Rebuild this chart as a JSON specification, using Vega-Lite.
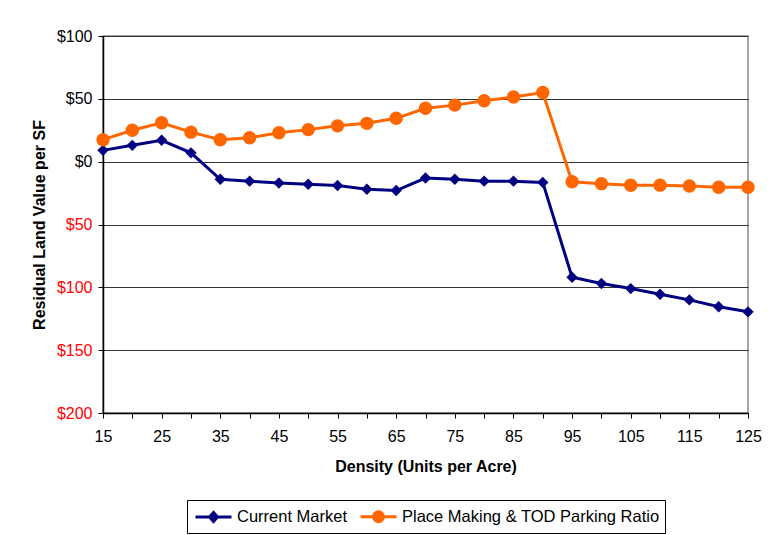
{
  "$schema": "https://vega.github.io/schema/vega-lite/v6.json",
  "width": 645,
  "height": 377,
  "autosize": {"type": "none"},
  "padding": {"left": 103, "top": 36, "right": 24, "bottom": 122},
  "background": "white",
  "config": {
    "font": "Liberation Sans",
    "view": {"stroke": "#888888", "strokeWidth": 1.5},
    "legend": {
      "title": null,
      "orient": "none",
      "legendX": 84,
      "legendY": 464,
      "direction": "horizontal",
      "strokeColor": "black",
      "padding": 5,
      "labelFontSize": 16.5,
      "labelColor": "black",
      "labelLimit": 400,
      "symbolSize": 400,
      "symbolOpacity": 1,
      "symbolStrokeWidth": 3,
      "symbolOffset": 10,
      "columnPadding": 6,
      "labelOffset": 12
    }
  },
  "data": {
    "values": [
      {"density": 15, "series": "Current Market", "value": 9},
      {"density": 20, "series": "Current Market", "value": 13},
      {"density": 25, "series": "Current Market", "value": 17},
      {"density": 30, "series": "Current Market", "value": 7},
      {"density": 35, "series": "Current Market", "value": -14},
      {"density": 40, "series": "Current Market", "value": -15.5},
      {"density": 45, "series": "Current Market", "value": -17},
      {"density": 50, "series": "Current Market", "value": -18},
      {"density": 55, "series": "Current Market", "value": -19},
      {"density": 60, "series": "Current Market", "value": -22},
      {"density": 65, "series": "Current Market", "value": -23},
      {"density": 70, "series": "Current Market", "value": -13},
      {"density": 75, "series": "Current Market", "value": -14},
      {"density": 80, "series": "Current Market", "value": -15.5},
      {"density": 85, "series": "Current Market", "value": -15.5},
      {"density": 90, "series": "Current Market", "value": -16.5},
      {"density": 95, "series": "Current Market", "value": -92},
      {"density": 100, "series": "Current Market", "value": -97},
      {"density": 105, "series": "Current Market", "value": -101},
      {"density": 110, "series": "Current Market", "value": -105.5},
      {"density": 115, "series": "Current Market", "value": -110},
      {"density": 120, "series": "Current Market", "value": -115.5},
      {"density": 125, "series": "Current Market", "value": -119.5},
      {"density": 15, "series": "Place Making & TOD Parking Ratio", "value": 17.5},
      {"density": 20, "series": "Place Making & TOD Parking Ratio", "value": 25},
      {"density": 25, "series": "Place Making & TOD Parking Ratio", "value": 31},
      {"density": 30, "series": "Place Making & TOD Parking Ratio", "value": 23.5},
      {"density": 35, "series": "Place Making & TOD Parking Ratio", "value": 17.5},
      {"density": 40, "series": "Place Making & TOD Parking Ratio", "value": 19},
      {"density": 45, "series": "Place Making & TOD Parking Ratio", "value": 23},
      {"density": 50, "series": "Place Making & TOD Parking Ratio", "value": 25.5},
      {"density": 55, "series": "Place Making & TOD Parking Ratio", "value": 28.5},
      {"density": 60, "series": "Place Making & TOD Parking Ratio", "value": 30.5},
      {"density": 65, "series": "Place Making & TOD Parking Ratio", "value": 34.5},
      {"density": 70, "series": "Place Making & TOD Parking Ratio", "value": 42.5},
      {"density": 75, "series": "Place Making & TOD Parking Ratio", "value": 45},
      {"density": 80, "series": "Place Making & TOD Parking Ratio", "value": 48.5},
      {"density": 85, "series": "Place Making & TOD Parking Ratio", "value": 51.5},
      {"density": 90, "series": "Place Making & TOD Parking Ratio", "value": 55},
      {"density": 95, "series": "Place Making & TOD Parking Ratio", "value": -16},
      {"density": 100, "series": "Place Making & TOD Parking Ratio", "value": -17.5},
      {"density": 105, "series": "Place Making & TOD Parking Ratio", "value": -18.8},
      {"density": 110, "series": "Place Making & TOD Parking Ratio", "value": -18.7},
      {"density": 115, "series": "Place Making & TOD Parking Ratio", "value": -19.3},
      {"density": 120, "series": "Place Making & TOD Parking Ratio", "value": -20.4},
      {"density": 125, "series": "Place Making & TOD Parking Ratio", "value": -20.4}
    ]
  },
  "encoding": {
    "x": {
      "field": "density",
      "type": "quantitative",
      "scale": {"domain": [15, 125], "nice": false, "zero": false},
      "axis": {
        "title": "Density (Units per Acre)",
        "titleFontSize": 16,
        "titleFontWeight": "bold",
        "titleColor": "black",
        "titlePadding": 14,
        "values": [15,20,25,30,35,40,45,50,55,60,65,70,75,80,85,90,95,100,105,110,115,120,125],
        "labelExpr": "(datum.value - 15) % 10 == 0 ? datum.label : ''",
        "labelFontSize": 16,
        "labelColor": "black",
        "labelPadding": 10,
        "labelFlush": false,
        "grid": false,
        "domainColor": "black",
        "domainWidth": 1.5,
        "tickColor": "black",
        "tickSize": 5
      }
    },
    "y": {
      "field": "value",
      "type": "quantitative",
      "scale": {"domain": [-200, 100], "nice": false},
      "axis": {
        "title": "Residual Land Value per SF",
        "titleFontSize": 16,
        "titleFontWeight": "bold",
        "titleColor": "black",
        "titlePadding": 9,
        "values": [-200, -150, -100, -50, 0, 50, 100],
        "labelExpr": "'$' + abs(datum.value)",
        "labelColor": {"expr": "datum.value < 0 ? 'red' : 'black'"},
        "labelFontSize": 16,
        "labelPadding": 6,
        "grid": true,
        "gridColor": "#333333",
        "gridWidth": 1,
        "domainColor": "black",
        "domainWidth": 1.5,
        "tickColor": "black",
        "tickSize": 5
      }
    }
  },
  "layer": [
    {
      "transform": [{"filter": "datum.series == 'Current Market'"}],
      "mark": {"type": "line", "strokeWidth": 3, "color": "#000080"}
    },
    {
      "transform": [{"filter": "datum.series != 'Current Market'"}],
      "mark": {"type": "line", "strokeWidth": 3, "color": "#FF6600"}
    },
    {
      "transform": [{"filter": "datum.series == 'Current Market'"}],
      "mark": {"type": "point", "filled": true, "opacity": 1, "shape": "diamond", "size": 130, "color": "#000080"}
    },
    {
      "transform": [{"filter": "datum.series != 'Current Market'"}],
      "mark": {"type": "point", "filled": true, "opacity": 1, "shape": "circle", "size": 180, "color": "#FF6600"}
    },
    {
      "mark": {"type": "point", "filled": true, "opacity": 0},
      "encoding": {
        "fill": {
          "field": "series",
          "type": "nominal",
          "scale": {"domain": ["Current Market", "Place Making & TOD Parking Ratio"], "range": ["#000080", "#FF6600"]}
        },
        "stroke": {
          "field": "series",
          "type": "nominal",
          "scale": {"domain": ["Current Market", "Place Making & TOD Parking Ratio"], "range": ["#000080", "#FF6600"]}
        },
        "shape": {
          "field": "series",
          "type": "nominal",
          "scale": {"domain": ["Current Market", "Place Making & TOD Parking Ratio"], "range": [
            "M-1.8,0H-0.4M0.4,0H1.8M0,-0.45L0.4,0L0,0.45L-0.4,0Z",
            "M-1.8,0H-0.5M0.5,0H1.8M-0.5,0A0.5,0.5 0 1,0 0.5,0A0.5,0.5 0 1,0 -0.5,0Z"
          ]}
        }
      }
    }
  ]
}
